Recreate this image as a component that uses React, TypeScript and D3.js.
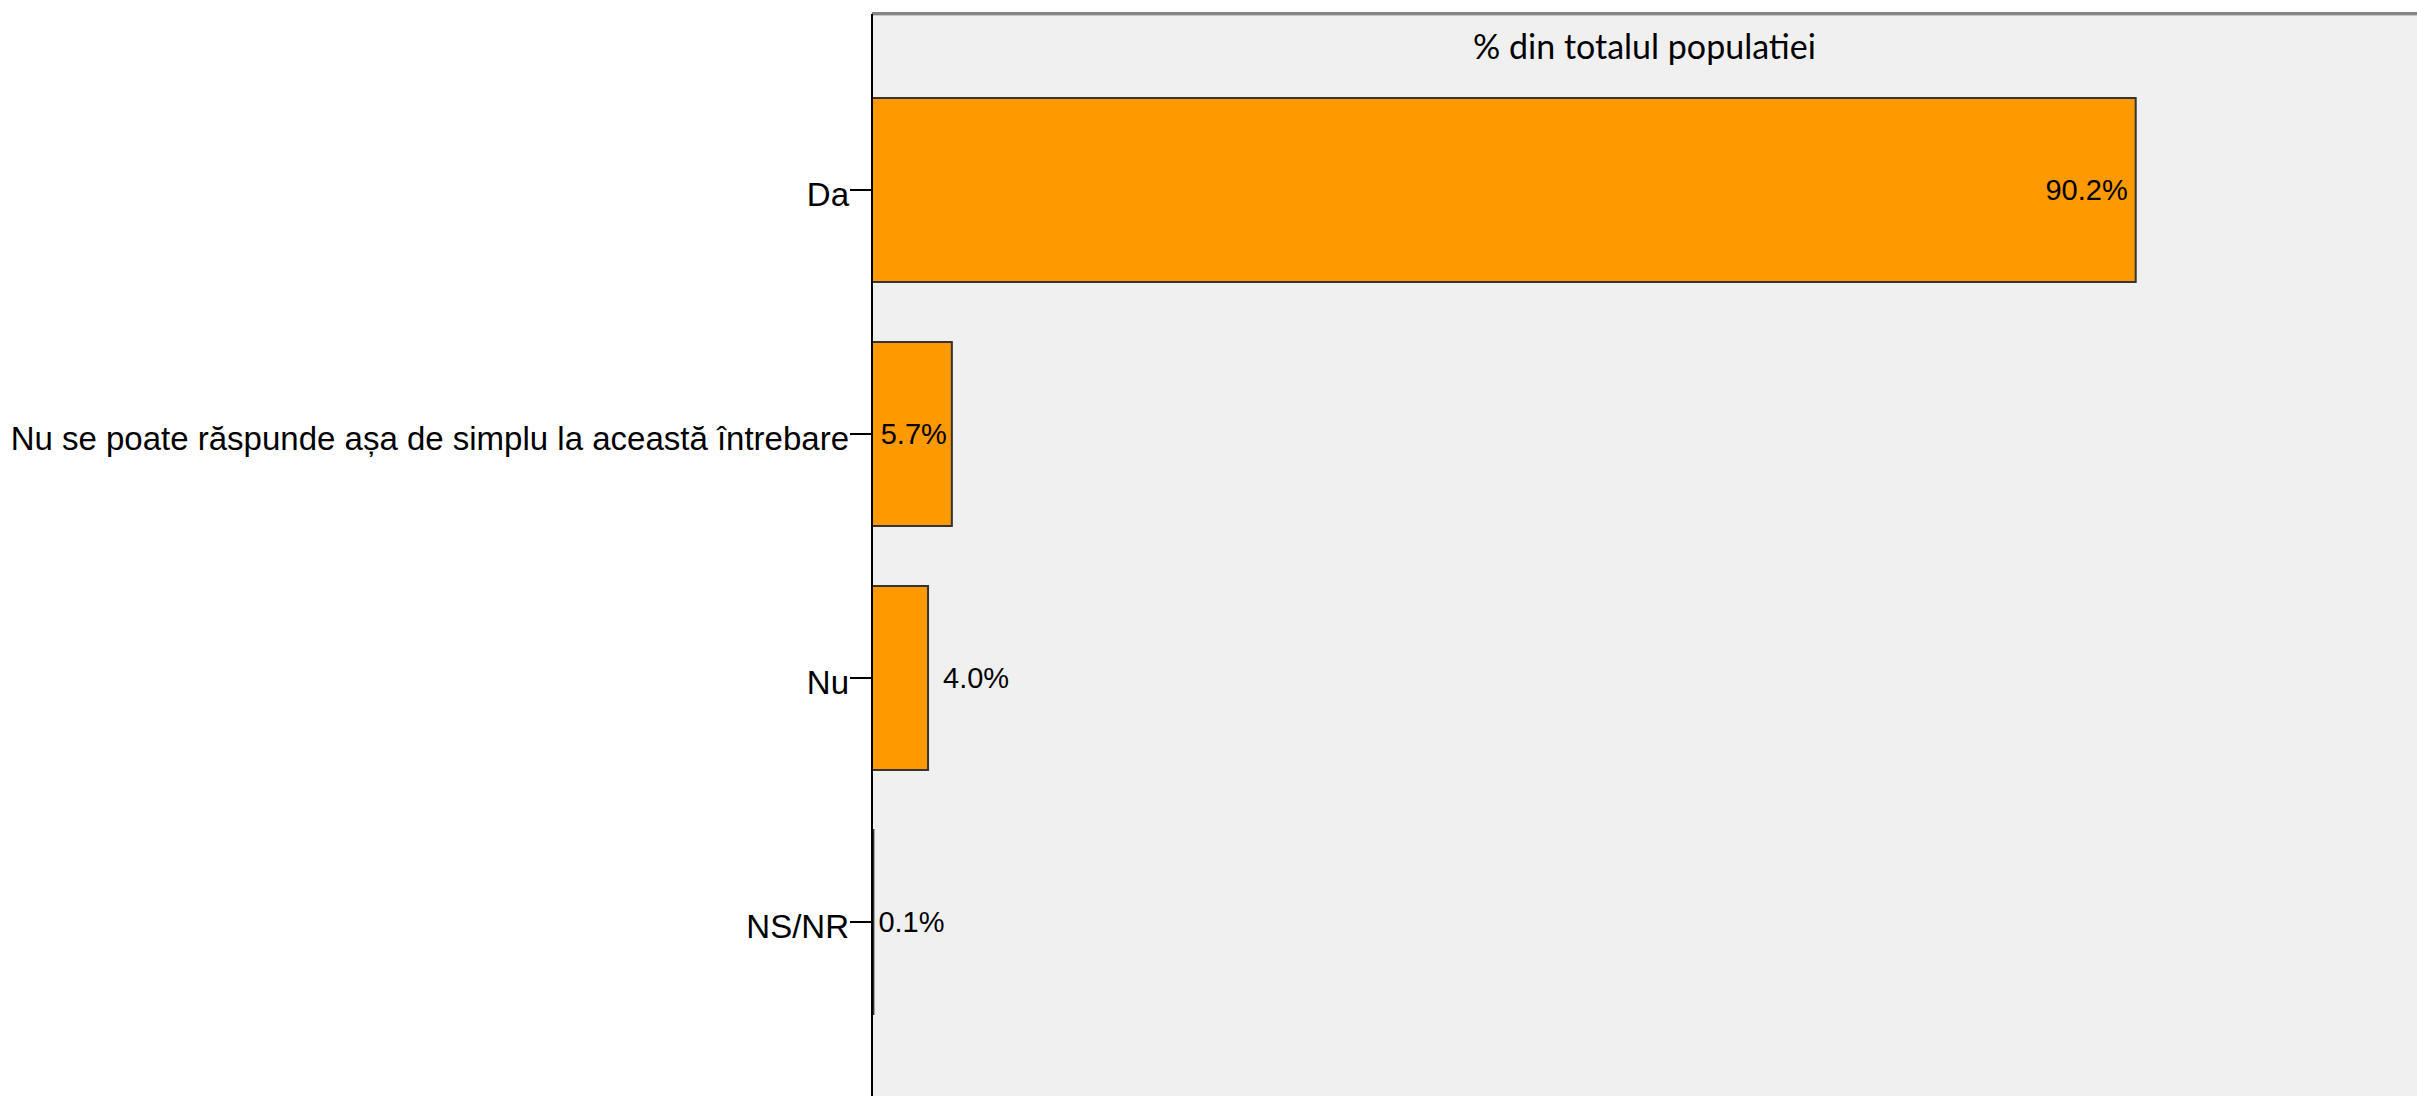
import React, { useEffect } from "react";
import * as d3 from "d3";

const categories = ["Da", "Nu se poate răspunde așa de simplu la această întrebare", "Nu", "NS/NR"];
const values = [90.2, 5.7, 4.0, 0.1];
const valueLabels = ["90.2%", "5.7%", "4.0%", "0.1%"];
const title = "% din totalul populatiei";

const W = 2417;
const H = 1096;

export default function App() {
  useEffect(() => {
    document.body.style.margin = "0";
  }, []);

  const plotLeft = 872;
  const plotTop = 14;
  const x = d3.scaleLinear().domain([0, 100]).range([plotLeft, plotLeft + 1401]);
  const y = d3
    .scaleBand<string>()
    .domain(categories)
    .range([68, 1044])
    .paddingInner(0.246)
    .paddingOuter(0.123);

  // label placement style: inside (right-aligned) or outside the bar end
  const placement = [
    { inside: true, dx: -8 },
    { inside: true, dx: -5 },
    { inside: false, dx: 15 },
    { inside: false, dx: 5 },
  ];

  return (
    <svg width={W} height={H} style={{ display: "block" }}>
      <rect x={0} y={0} width={W} height={H} fill="#ffffff" />
      <rect x={plotLeft} y={plotTop} width={W - plotLeft} height={H - plotTop} fill="#f0f0f0" />
      <rect x={plotLeft} y={12} width={W - plotLeft} height={3} fill="#858585" />
      <rect x={plotLeft} y={15} width={W - plotLeft} height={1} fill="#c8c8c8" />
      <text
        x={(plotLeft + W) / 2}
        y={59}
        textAnchor="middle"
        fontFamily="Lato, 'Open Sans', sans-serif"
        fontSize={34}
        fill="#000"
      >
        {title}
      </text>
      {categories.map((c, i) => {
        const y0 = y(c) as number;
        const bw = y.bandwidth();
        const cy = y0 + bw / 2;
        const x1 = x(values[i]);
        const p = placement[i];
        return (
          <g key={c}>
            <rect
              x={x(0)}
              y={y0}
              width={x1 - x(0)}
              height={bw}
              fill="#ff9900"
              stroke="#333333"
              strokeWidth={2}
            />
            <text
              x={x1 + p.dx}
              y={cy}
              dy="0.36em"
              textAnchor={p.inside ? "end" : "start"}
              fontFamily="'Liberation Sans', Arial, sans-serif"
              fontSize={29}
              fill="#000"
            >
              {valueLabels[i]}
            </text>
            <line x1={plotLeft - 22} x2={plotLeft} y1={cy} y2={cy} stroke="#000" strokeWidth={2} />
            <text
              x={plotLeft - 23}
              y={cy}
              dy="0.48em"
              textAnchor="end"
              fontFamily="'Liberation Sans', Arial, sans-serif"
              fontSize={33}
              fill="#000"
            >
              {c}
            </text>
          </g>
        );
      })}
      <line x1={plotLeft} x2={plotLeft} y1={plotTop} y2={H} stroke="#000" strokeWidth={2} />
    </svg>
  );
}
